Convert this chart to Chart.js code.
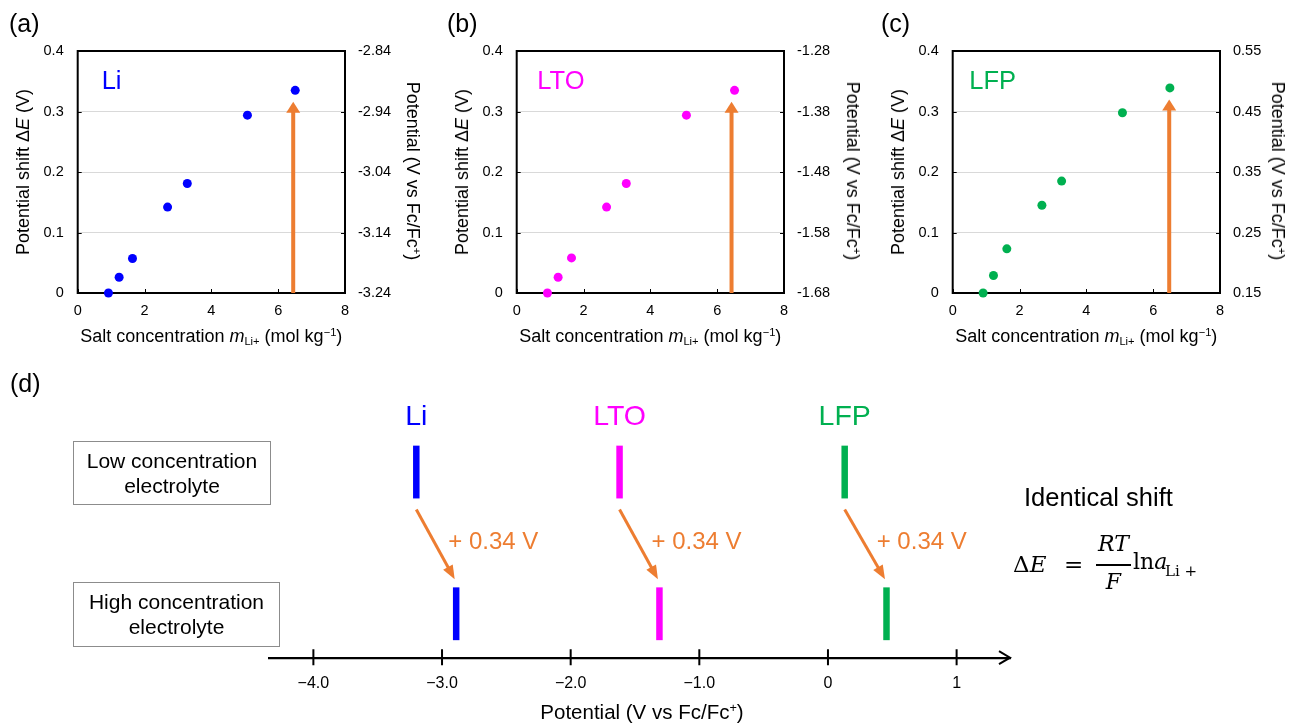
<!DOCTYPE html>
<html>
<head>
<meta charset="utf-8">
<title>Potential shift with salt concentration</title>
<script src="https://cdn.jsdelivr.net/npm/chart.js@4.4.1/dist/chart.umd.min.js"></script>
<style>
  body { margin: 0; background: #fff; }
  #fig { position: relative; width: 1290px; height: 723px; overflow: hidden; font-family: "Liberation Sans", Arial, sans-serif; color: #000; }
  #fig canvas { position: absolute; }
  .t { position: absolute; white-space: nowrap; line-height: 1; }
  .t sub, .t sup { font-size: 0.62em; line-height: 0; }
  .t sub { vertical-align: -0.3em; }
  .t sup { vertical-align: 0.55em; }
  .box { position: absolute; box-sizing: border-box; border: 1.5px solid #8c8c8c; text-align: center; font-size: 21px; line-height: 25px; padding-top: 6px; }
  .eq { font-family: "DejaVu Serif", serif; }
</style>
</head>
<body>
<div id="fig">
  <canvas id="chartA" width="405" height="350" style="left:0px;top:0px"></canvas>
  <canvas id="chartB" width="405" height="350" style="left:439px;top:0px"></canvas>
  <canvas id="chartC" width="405" height="350" style="left:875px;top:0px"></canvas>
  <canvas id="chartD" width="1290" height="353" style="left:0px;top:370px"></canvas>

  <div class="box" style="left:73px;top:441px;width:198px;height:64px">Low concentration<br>electrolyte</div>
  <div class="box" style="left:73px;top:582px;width:207px;height:65px">High concentration<br>electrolyte</div>
</div>

<script>
// panels (a)-(c): potential shift vs salt concentration
const concLi = [0.92, 1.24, 1.64, 2.69, 3.28, 5.08, 6.51];
const shiftLi = [0, 0.026, 0.057, 0.142, 0.181, 0.294, 0.335];
const concLTO = [0.92, 1.24, 1.64, 2.69, 3.28, 5.08, 6.52];
const shiftLTO = [0, 0.026, 0.058, 0.142, 0.181, 0.294, 0.335];
const concLFP = [0.91, 1.22, 1.62, 2.67, 3.26, 5.08, 6.50];
const shiftLFP = [0, 0.029, 0.073, 0.145, 0.185, 0.298, 0.339];

const concTicks = [0, 2, 4, 6, 8];
const shiftTicks = [0, 0.1, 0.2, 0.3, 0.4];
const potTicksLi = [-3.24, -3.14, -3.04, -2.94, -2.84];
const potTicksLTO = [-1.68, -1.58, -1.48, -1.38, -1.28];
const potTicksLFP = [0.15, 0.25, 0.35, 0.45, 0.55];

// orange arrow in each panel (concentration, top of arrow)
const arrowConc = [6.45, 6.43, 6.48];
const arrowShift = [0.316, 0.316, 0.32];

// panel (d): electrode potentials in low / high concentration electrolyte
const materials = ['Li', 'LTO', 'LFP'];
const lowPotential = [-3.20, -1.62, 0.13];
const highPotential = [-2.89, -1.31, 0.455];
const shiftText = '+ 0.34 V';
const potAxisTicks = [-4, -3, -2, -1, 0, 1];
const potAxisLabels = ['\u22124.0', '\u22123.0', '\u22122.0', '\u22121.0', '0', '1'];

const COLORS = ['#0000FF', '#FF00FF', '#00B050'];
const ORANGE = '#ED7D31';
const ROW_HIGH = 1, ROW_LOW = 2;
const BAR_HALF = 26.4; // px

Chart.defaults.font.family = "'Liberation Sans', Arial, sans-serif";
Chart.defaults.color = '#000';
Chart.defaults.animation = false;

// frame, inner tick marks and the orange arrow of panels (a)-(c)
const panelDecor = {
    id: 'panelDecor',
    beforeDatasetsDraw(chart, args, opts) {
        const { ctx, chartArea: a, scales: { x, y } } = chart;
        ctx.save();
        ctx.strokeStyle = '#000';
        ctx.lineWidth = 1;
        ctx.beginPath();
        y.ticks.forEach(t => {
            const py = Math.round(y.getPixelForValue(t.value)) + 0.5;
            ctx.moveTo(a.left, py); ctx.lineTo(a.left + 4, py);
            ctx.moveTo(a.right - 4, py); ctx.lineTo(a.right, py);
        });
        x.ticks.forEach(t => {
            const px = Math.round(x.getPixelForValue(t.value)) + 0.5;
            ctx.moveTo(px, a.bottom); ctx.lineTo(px, a.bottom - 4);
        });
        ctx.stroke();
        ctx.lineWidth = 2;
        ctx.strokeRect(a.left, a.top, a.width, a.height);

        const ax = x.getPixelForValue(opts.arrowX);
        const y0 = y.getPixelForValue(0);
        const yt = y.getPixelForValue(opts.arrowY);
        ctx.strokeStyle = ORANGE;
        ctx.fillStyle = ORANGE;
        ctx.lineWidth = 4;
        ctx.beginPath();
        ctx.moveTo(ax, y0);
        ctx.lineTo(ax, yt + 10);
        ctx.stroke();
        ctx.beginPath();
        ctx.moveTo(ax, yt);
        ctx.lineTo(ax - 7, yt + 11);
        ctx.lineTo(ax + 7, yt + 11);
        ctx.closePath();
        ctx.fill();
        ctx.restore();
    }
};

function makePanel(canvasId, conc, shift, potTicks, color, arrowX, arrowY) {
    return new Chart(document.getElementById(canvasId), {
        type: 'scatter',
        data: {
            datasets: [{
                data: conc.map((c, i) => ({ x: c, y: shift[i] })),
                backgroundColor: color,
                pointRadius: 4.5,
                pointBorderWidth: 0,
                clip: false
            }]
        },
        options: {
            responsive: false,
            layout: { autoPadding: false, padding: { top: 51, left: 0, right: 0, bottom: 0 } },
            plugins: {
                legend: { display: false },
                tooltip: { enabled: false },
                panelDecor: { arrowX: arrowX, arrowY: arrowY }
            },
            scales: {
                x: {
                    type: 'linear', min: 0, max: 8,
                    afterBuildTicks: s => { s.ticks = concTicks.map(v => ({ value: v })); },
                    afterFit: s => { s.height = 57; },
                    grid: { display: false, drawTicks: false },
                    border: { display: false },
                    ticks: { padding: 9, font: { size: 14.5 }, color: '#000' }
                },
                y: {
                    position: 'left', min: 0, max: 0.4,
                    afterBuildTicks: s => { s.ticks = shiftTicks.map(v => ({ value: v })); },
                    afterFit: s => { s.width = 77.7; },
                    grid: { color: '#d9d9d9', drawTicks: false },
                    border: { display: false },
                    ticks: { padding: 14, font: { size: 14.5 }, color: '#000', callback: v => String(v) }
                },
                y2: {
                    position: 'right', min: potTicks[0], max: potTicks[potTicks.length - 1],
                    afterBuildTicks: s => { s.ticks = potTicks.map(v => ({ value: v })); },
                    afterFit: s => { s.width = 60; },
                    grid: { display: false, drawTicks: false },
                    border: { display: false },
                    ticks: { padding: 13, font: { size: 14.5 }, color: '#000', callback: v => v.toFixed(2) }
                }
            }
        },
        plugins: [panelDecor]
    });
}

const charts = [
    makePanel('chartA', concLi, shiftLi, potTicksLi, COLORS[0], arrowConc[0], arrowShift[0]),
    makePanel('chartB', concLTO, shiftLTO, potTicksLTO, COLORS[1], arrowConc[1], arrowShift[1]),
    makePanel('chartC', concLFP, shiftLFP, potTicksLFP, COLORS[2], arrowConc[2], arrowShift[2])
];

// arrow helper for panel (d)
function drawArrow(ctx, x0, y0, x1, y1, headLen, headHalf) {
    const ang = Math.atan2(y1 - y0, x1 - x0);
    const bx = x1 - Math.cos(ang) * headLen;
    const by = y1 - Math.sin(ang) * headLen;
    ctx.beginPath();
    ctx.moveTo(x0, y0);
    ctx.lineTo(bx + Math.cos(ang) * 2, by + Math.sin(ang) * 2);
    ctx.stroke();
    ctx.beginPath();
    ctx.moveTo(x1, y1);
    ctx.lineTo(bx - Math.sin(ang) * headHalf, by + Math.cos(ang) * headHalf);
    ctx.lineTo(bx + Math.sin(ang) * headHalf, by - Math.cos(ang) * headHalf);
    ctx.closePath();
    ctx.fill();
}

// tick crosses, axis arrow head and shift arrows of panel (d)
const axisDecor = {
    id: 'axisDecor',
    afterDraw(chart) {
        const { ctx, chartArea: a, scales: { x, y } } = chart;
        ctx.save();
        ctx.strokeStyle = '#000';
        ctx.lineWidth = 2;
        ctx.beginPath();
        x.ticks.forEach(t => {
            const px = x.getPixelForValue(t.value);
            ctx.moveTo(px, a.bottom - 8.5);
            ctx.lineTo(px, a.bottom + 7.5);
        });
        ctx.stroke();
        ctx.beginPath();
        ctx.moveTo(a.right - 11, a.bottom - 6.5);
        ctx.lineTo(a.right, a.bottom);
        ctx.lineTo(a.right - 11, a.bottom + 6.5);
        ctx.stroke();

        ctx.strokeStyle = ORANGE;
        ctx.fillStyle = ORANGE;
        ctx.lineWidth = 3;
        lowPotential.forEach((v, i) => {
            const x0 = x.getPixelForValue(v);
            const y0 = y.getPixelForValue(ROW_LOW) + BAR_HALF + 11;
            const x1 = x.getPixelForValue(highPotential[i]) - 1.5;
            const y1 = y.getPixelForValue(ROW_HIGH) - BAR_HALF - 8;
            drawArrow(ctx, x0, y0, x1, y1, 14, 5.5);
        });
        ctx.restore();
    }
};

const chartD = new Chart(document.getElementById('chartD'), {
    type: 'scatter',
    data: {
        datasets: [
            {
                label: 'Low concentration',
                data: lowPotential.map(v => ({ x: v, y: ROW_LOW })),
                pointStyle: 'line', pointRotation: 90, pointRadius: BAR_HALF,
                pointBorderWidth: 6.5, pointBorderColor: COLORS, clip: false
            },
            {
                label: 'High concentration',
                data: highPotential.map(v => ({ x: v, y: ROW_HIGH })),
                pointStyle: 'line', pointRotation: 90, pointRadius: BAR_HALF,
                pointBorderWidth: 6.5, pointBorderColor: COLORS, clip: false
            }
        ]
    },
    options: {
        responsive: false,
        layout: { autoPadding: false, padding: { top: 0, left: 269, right: 280, bottom: 0 } },
        plugins: { legend: { display: false }, tooltip: { enabled: false } },
        scales: {
            x: {
                type: 'linear', min: -4.345, max: 1.415,
                afterBuildTicks: s => { s.ticks = potAxisTicks.map(v => ({ value: v })); },
                afterFit: s => { s.height = 65.3; },
                grid: { display: false, drawTicks: false },
                border: { display: true, color: '#000', width: 2.3 },
                ticks: { padding: 16, font: { size: 16 }, color: '#000', callback: (v, i) => potAxisLabels[i] }
            },
            y: { display: false, min: 0.69, max: 2.72 }
        }
    },
    plugins: [axisDecor]
});

// ---- real-text labels ----
const fig = document.getElementById('fig');

function addText(html, x, baseline, size, opts = {}) {
    const el = document.createElement('div');
    el.className = 't' + (opts.cls ? ' ' + opts.cls : '');
    el.innerHTML = html;
    el.style.fontSize = size + 'px';
    el.style.top = (baseline - 0.85 * size) + 'px';
    el.style.left = x + 'px';
    if (opts.color) el.style.color = opts.color;
    if (opts.center) el.style.transform = 'translateX(-50%)';
    fig.appendChild(el);
    return el;
}

function addRotated(html, cx, cy, size, deg) {
    const el = document.createElement('div');
    el.className = 't';
    el.innerHTML = html;
    el.style.fontSize = size + 'px';
    el.style.left = cx + 'px';
    el.style.top = cy + 'px';
    el.style.transform = 'translate(-50%, -50%) rotate(' + deg + 'deg)';
    fig.appendChild(el);
}

const panelLetters = ['(a)', '(b)', '(c)'];
const letterLeft = [9, 447, 881];
const nameLeft = [101.7, 537.3, 969.3];
const rightTitleGap = [68, 68.5, 58];
charts.forEach((c, i) => {
    const a = c.chartArea;
    const off = parseFloat(c.canvas.style.left);
    const pl = off + a.left, pr = off + a.right;
    addText(panelLetters[i], letterLeft[i], 32.5, 25);
    addText(materials[i], nameLeft[i], 90, 25.5, { color: COLORS[i] });
    addRotated('Potential shift \u0394<i>E</i> (V)', pl - 54.7, 172, 18, -90);
    addRotated('Potential (V vs Fc/Fc<sup>+</sup>)', pr + rightTitleGap[i], 171, 18, 90);
    addText('Salt concentration <i>m</i><sub>Li+</sub> (mol kg<sup>\u22121</sup>)', (pl + pr) / 2, 342, 18, { center: true });
});

addText('(d)', 10, 392.5, 25);
const dx = chartD.scales.x;
materials.forEach((m, i) => {
    const px = dx.getPixelForValue(lowPotential[i]);
    addText(m, px, 425, 28.5, { color: COLORS[i], center: true });
    addText(shiftText, px + 32, 549, 24, { color: ORANGE });
});
addText('Potential (V vs Fc/Fc<sup>+</sup>)', 642, 719, 20.5, { center: true });

addText('Identical shift', 1024, 506.7, 25.5);
addText('\u0394<i>E</i>', 1013, 572.7, 23, { cls: 'eq' });
addText('=', 1064, 572.7, 23, { cls: 'eq' });
addText('<i>RT</i>', 1113.5, 551.7, 22, { cls: 'eq', center: true });
addText('<i>F</i>', 1113.5, 590, 22, { cls: 'eq', center: true });
const bar = document.createElement('div');
bar.style.cssText = 'position:absolute;left:1096px;top:564px;width:35px;height:1.6px;background:#000';
fig.appendChild(bar);
addText('ln<i>a</i>', 1133, 569.5, 22, { cls: 'eq' });
addText('Li +', 1165, 577, 15, { cls: 'eq' });
</script>
</body>
</html>
